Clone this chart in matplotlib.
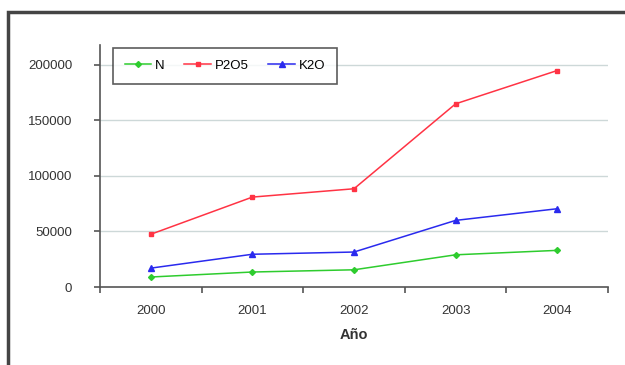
import matplotlib.pyplot as plt
from matplotlib.patches import Rectangle

plt.rcParams['font.family'] = ['Liberation Sans', 'DejaVu Sans']

years = ['2000', '2001', '2002', '2003', '2004']
n_vals = [9000, 13500, 15500, 29000, 33000]
p2o5_vals = [47500, 81000, 88500, 165000, 195000]
k2o_vals = [17000, 29500, 31500, 60000, 70500]
yticks = [0, 50000, 100000, 150000, 200000]

fig = plt.figure(figsize=(6.25, 3.65), dpi=100)
fig.patches.append(Rectangle((8 / 625, -0.05), 1.1, 1 - 12 / 365 + 0.05,
                             transform=fig.transFigure, fill=False,
                             edgecolor='#444444', linewidth=2.5))

ax = fig.add_axes([100 / 625, 1 - 287 / 365, 508 / 625, 242 / 365])
x = range(len(years))
ax.plot(x, n_vals, color='#2ecc2e', marker='D', markersize=3, linewidth=1.1, label='N')
ax.plot(x, p2o5_vals, color='#ff3344', marker='s', markersize=3.5, linewidth=1.1, label='P2O5')
ax.plot(x, k2o_vals, color='#2a2aee', marker='^', markersize=4, linewidth=1.1, label='K2O')

ax.set_xlim(-0.5, 4.5)
ax.set_ylim(0, 218000)
ax.set_yticks(yticks)
ax.set_yticklabels([str(v) for v in yticks])
ax.set_xticks(list(x))
ax.set_xticklabels(years)
ax.set_xticks([i + 0.5 for i in range(-1, 5)], minor=True)
ax.tick_params(axis='x', which='major', length=0, pad=13)
ax.tick_params(axis='x', which='minor', length=4, color='#555555', width=1.2)
ax.tick_params(axis='y', length=4, color='#555555', width=1.2, pad=16)
ax.tick_params(labelsize=9.5, labelcolor='#333333')

for v in yticks[1:]:
    ax.axhline(v, color='#cdd8d8', linewidth=1, zorder=0)

for side in ['top', 'right']:
    ax.spines[side].set_visible(False)
for side in ['left', 'bottom']:
    ax.spines[side].set_color('#555555')
    ax.spines[side].set_linewidth(1.2)

ax.set_xlabel('Año', fontsize=10.5, fontweight='bold', color='#333333', labelpad=8)

leg = ax.legend(ncol=3, loc='upper left', bbox_to_anchor=(0.012, 1.015),
                fontsize=9.5, frameon=True, fancybox=False, handlelength=2.0,
                columnspacing=1.5, borderpad=0.9, handletextpad=0.3)
leg.get_frame().set_edgecolor('#333333')
leg.get_frame().set_linewidth(1.2)

fig.savefig('out.png', dpi=100)
